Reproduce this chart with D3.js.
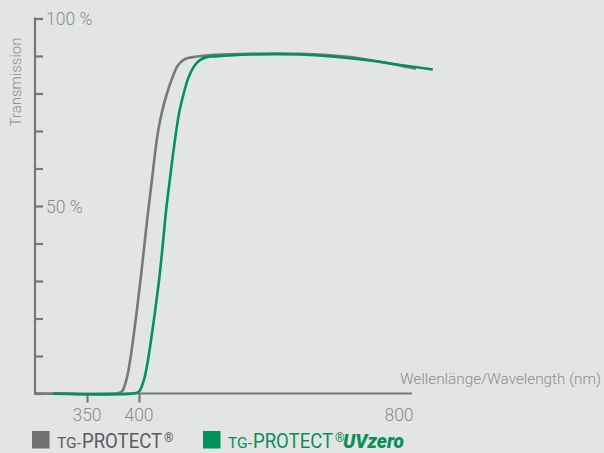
<!DOCTYPE html>
<html><head><meta charset="utf-8">
<script src="https://cdn.jsdelivr.net/npm/d3@7"></script>
<style>
html,body{margin:0;padding:0;background:#e3e5e4;}
svg{display:block;}
text{font-family:Roboto,"Liberation Sans",sans-serif;}
</style></head>
<body>
<svg id="c" width="604" height="453"></svg>
<script>
// Data: wavelength (nm) and transmission (%)
const grayNm  = [300, 377, 383.4, 388.2, 391.3, 393.6, 397.8, 402.6, 408.3, 414, 420.2, 426.3, 430.2, 435.4, 442.3, 451.1, 460.3, 470.8, 486.2, 517, 571, 648, 725, 765, 801.5, 826];
const grayT   = [0,   0,   0.5,   4.05,  8.5,   12.9,  21.8,  30.7,  39.6,  48.5, 57.4, 66.3, 70.7, 75.1, 79.6, 84.1, 87.6, 89.2, 89.8, 90.3, 90.6, 90.6, 89.7, 88.6, 87.5, 86.6];
const greenNm = [317, 394, 400, 408.2, 413.4, 417.4, 424.6, 431.2, 436.5, 441.5, 447.7, 454.3, 462, 468.2, 475.8, 486.2, 493.8, 504.2, 516.9, 571, 648, 725, 765, 801.5, 852];
const greenT  = [0,   0,   0.5, 4.05,  8.5,   12.9,  21.8,  30.7,  39.6,  48.5,  57.4,  66.3,  75.1, 79.6, 84.1,  87.6,  88.9,  89.7,  89.9,  90.4, 90.4, 89.4, 88.6, 87.6, 86.4];
const yTicks = [0,10,20,30,40,50,60,70,80,90,100];
const yLabels = [{v:100,t:"100 %"},{v:50,t:"50 %"}];
const xTicks = [350, 400];
const xLabels = [350, 400, 800];
const legendItems = [
  {name:"PROTECT", extra:"", color:"#6f7171", text:"#5b5c5c"},
  {name:"PROTECT", extra:"UVzero", color:"#00925a", text:"#0a8f58"}
];

const svg = d3.select("#c");
const x = d3.scaleLinear().domain([300, 400, 820]).range([35, 139, 412]);
const y = d3.scaleLinear().domain([0, 100]).range([393.5, 18.5]);
const axisColor = "#767878";

// y axis
const ya = svg.append("g").attr("transform","translate(35,0)")
  .call(d3.axisRight(y).tickValues(yTicks).tickSize(8).tickSizeOuter(0).tickFormat(""));
ya.selectAll("path,line").attr("stroke",axisColor).attr("stroke-width",2.2);
ya.select(".domain").attr("d", `M0,${y(100)-1}V${y(0)+1}`);

// x axis
const xa = svg.append("g").attr("transform",`translate(0,${y(0)})`)
  .call(d3.axisBottom(x).tickValues(xTicks).tickSize(9).tickSizeOuter(0).tickFormat(""));
xa.selectAll("path,line").attr("stroke",axisColor).attr("stroke-width",2.2);
xa.select(".domain").attr("d", `M${x(300)-1},0H${x(820)}`);

// y labels
svg.selectAll(".ylab").data(yLabels).enter().append("text")
  .attr("x",46).attr("y",d=>y(d.v)+6.5)
  .attr("font-size",17.5).attr("font-weight",300).attr("fill","#8a8b8b").text(d=>d.t);

svg.append("text").attr("transform","translate(21,82) rotate(-90)")
  .attr("text-anchor","middle").attr("font-size",15).attr("font-weight",300)
  .attr("fill","#8a8b8b").text("Transmission");

// x labels
svg.selectAll(".xlab").data(xLabels).enter().append("text")
  .attr("x",d=>x(d)).attr("y",421).attr("text-anchor","middle")
  .attr("font-size",17.5).attr("font-weight",300).attr("fill","#8a8b8b").text(d=>d);

svg.append("text").attr("x",601).attr("y",384).attr("text-anchor","end")
  .attr("font-size",15).attr("font-weight",300).attr("fill","#8a8b8b")
  .attr("textLength",201).attr("lengthAdjust","spacingAndGlyphs")
  .text("Wellenlänge/Wavelength (nm)");

// lines
const line = d3.line().x(d=>x(d[0])).y(d=>y(d[1])).curve(d3.curveCatmullRom.alpha(0.5));
svg.append("path").datum(d3.zip(grayNm, grayT)).attr("d",line)
  .attr("fill","none").attr("stroke","#777878").attr("stroke-width",2.6);
svg.append("path").datum(d3.zip(greenNm, greenT)).attr("d",line)
  .attr("fill","none").attr("stroke","#00925a").attr("stroke-width",2.6);

// legend
const legX = [32, 203];
legendItems.forEach((it,i)=>{
  const g = svg.append("g").attr("transform",`translate(${legX[i]},431)`);
  g.append("rect").attr("width",17.5).attr("height",17.5).attr("fill",it.color);
  const base = 17.3;
  g.append("text").attr("x",25).attr("y",base).attr("fill",it.text)
    .attr("font-size",14).attr("textLength",24).attr("lengthAdjust","spacingAndGlyphs").text("TG-");
  g.append("text").attr("x",50).attr("y",base).attr("fill",it.text)
    .attr("font-size",20.5).attr("textLength",80).attr("lengthAdjust","spacingAndGlyphs").text(it.name);
  g.append("text").attr("x",132).attr("y",base-6).attr("fill",it.text)
    .attr("font-size",12).text("®");
  if (it.extra) g.append("text").attr("x",140).attr("y",base).attr("fill",it.text)
    .attr("font-size",20.5).attr("font-weight",900).attr("font-style","italic")
    .attr("textLength",61).attr("lengthAdjust","spacingAndGlyphs").text(it.extra);
});
</script>
</body></html>
